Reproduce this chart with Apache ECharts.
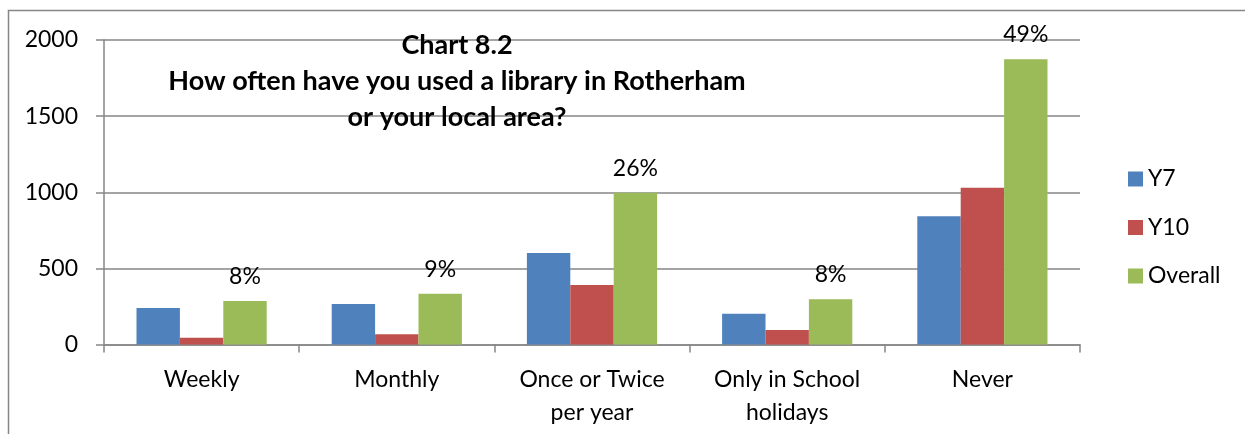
<!DOCTYPE html>
<html>
<head>
<meta charset="utf-8">
<script src="https://cdn.jsdelivr.net/npm/echarts@6/dist/echarts.min.js"></script>
<style>
  html, body { margin: 0; padding: 0; background: #ffffff; }
  #chart { width: 1245px; height: 434px; }
</style>
</head>
<body>
<div id="chart"></div>
<script>
// Library usage frequency by year group
const categories = ['Weekly', 'Monthly', 'Once or Twice\nper year', 'Only in School\nholidays', 'Never'];
const y7 = [240, 266, 601, 202, 842];
const y10 = [45, 67, 391, 95, 1030];
const overall = [286, 334, 997, 297, 1873];
const yTicks = [0, 500, 1000, 1500, 2000];

const FONT = 'Lato';
const GRID = '#868686';

// Share of the overall total, shown above each Overall bar
const overallTotal = overall.reduce((a, b) => a + b, 0);
const pct = v => Math.round(v / overallTotal * 100) + '%';

const chart = echarts.init(document.getElementById('chart'), null, { renderer: 'canvas' });

chart.setOption({
  animation: false,
  backgroundColor: '#ffffff',
  textStyle: { fontFamily: FONT },
  graphic: [{
    type: 'rect',
    shape: { x: 8.5, y: 10.5, width: 1400, height: 600 },
    style: { fill: 'none', stroke: GRID, lineWidth: 1.5 },
    silent: true,
    z: -10
  }],
  title: {
    text: 'Chart 8.2\nHow often have you used a library in Rotherham\nor your local area?',
    left: 452,
    top: 22,
    textAlign: 'center',
    textStyle: { fontFamily: FONT, fontWeight: 'bold', fontSize: 27, lineHeight: 36, color: '#000' }
  },
  legend: {
    orient: 'vertical',
    left: 1123,
    top: 162,
    icon: 'rect',
    itemWidth: 15,
    itemHeight: 15,
    itemGap: 24.5,
    textStyle: { fontFamily: FONT, fontSize: 23, lineHeight: 24, color: '#000' },
    data: ['Y7', 'Y10', 'Overall']
  },
  grid: { left: 104, right: 165, top: 40, bottom: 89.5, containLabel: false },
  xAxis: {
    type: 'category',
    data: categories,
    axisLine: { lineStyle: { color: GRID, width: 1.5 } },
    axisTick: { show: true, length: 8, lineStyle: { color: GRID, width: 1.5 } },
    axisLabel: { fontFamily: FONT, fontSize: 23, lineHeight: 33, color: '#000', margin: 19, interval: 0 }
  },
  yAxis: {
    type: 'value',
    min: yTicks[0],
    max: yTicks[yTicks.length - 1],
    interval: yTicks[1] - yTicks[0],
    axisLine: { show: true, lineStyle: { color: GRID, width: 1.5 } },
    axisTick: { show: true, length: 8, lineStyle: { color: GRID, width: 1.5 } },
    axisLabel: { fontFamily: FONT, fontSize: 23, color: '#000', margin: 26, formatter: v => String(v) },
    splitLine: { lineStyle: { color: GRID, width: 1.5 } }
  },
  series: [
    {
      name: 'Y7', type: 'bar', data: y7,
      barGap: '0%', barCategoryGap: '33.3%',
      itemStyle: { color: '#4F81BD' }
    },
    {
      name: 'Y10', type: 'bar', data: y10,
      itemStyle: { color: '#C0504D' }
    },
    {
      name: 'Overall', type: 'bar', data: overall,
      itemStyle: { color: '#9BBB59' },
      label: {
        show: true, position: 'top', distance: 13,
        fontFamily: FONT, fontSize: 23, color: '#000',
        formatter: p => pct(p.value)
      }
    }
  ]
});
</script>
</body>
</html>
